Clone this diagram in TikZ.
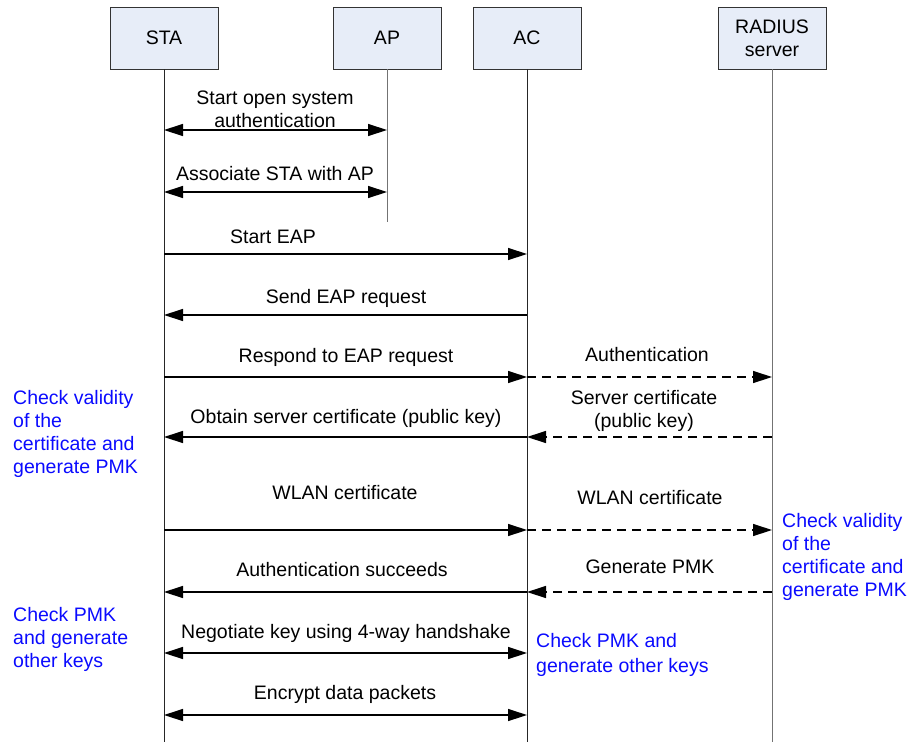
\documentclass[tikz,border=0pt]{standalone}
\usepackage{fontspec}
\setmainfont{Liberation Sans}
\usetikzlibrary{arrows.meta}
\definecolor{boxfill}{HTML}{E7EDF8}
\definecolor{notecol}{HTML}{0A0AFF}
\begin{document}
\begin{tikzpicture}[x=1pt,y=-1pt,
  font=\fontsize{19.5}{23}\selectfont,
  entity/.style={draw=black!80, fill=boxfill, minimum width=108pt, minimum height=62pt, inner sep=0pt, align=center, line width=0.8pt},
  lifeline/.style={line width=0.9pt, draw=black!85},
  lifelinegray/.style={line width=0.9pt, draw=black!55},
  tip/.tip={Triangle[length=19pt,width=12pt]},
  msg/.style={line width=1.3pt, -tip},
  dmsg/.style={msg, dash pattern=on 9pt off 6pt},
  both/.style={line width=1.3pt, tip-tip},
  lbl/.style={anchor=base, inner sep=0pt, align=center},
  note/.style={text=notecol, align=left, anchor=base west, inner sep=0pt}]
\useasboundingbox (0,0) rectangle (909,742);
% entities
\node[entity] (sta) at (164,38) {STA};
\node[entity] (ap) at (387,38) {AP};
\node[entity] (ac) at (527,38) {AC};
\node[entity] (rad) at (772,38) {RADIUS\\server};
% lifeline ends
\coordinate (staE) at (164,742);
\coordinate (apE) at (387,222);
\coordinate (acE) at (527,742);
\coordinate (radE) at (772,742);
\draw[lifeline] (sta.south) -- (staE);
\draw[lifelinegray] (ap.south) -- (apE);
\draw[lifeline] (ac.south) -- (acE);
\draw[lifelinegray] (rad.south) -- (radE);
% rows
\coordinate (r1) at (0,130);
\coordinate (r2) at (0,192);
\coordinate (r3) at (0,254);
\coordinate (r4) at (0,315);
\coordinate (r5) at (0,377);
\coordinate (r6) at (0,437);
\coordinate (r7) at (0,530);
\coordinate (r8) at (0,592);
\coordinate (r9) at (0,653);
\coordinate (r10) at (0,715);
% messages
\draw[both] (sta |- r1) -- (ap |- r1);
\draw[both] (sta |- r2) -- (ap |- r2);
\draw[msg] (sta |- r3) -- (ac |- r3);
\draw[msg] (ac |- r4) -- (sta |- r4);
\draw[msg] (sta |- r5) -- (ac |- r5);
\draw[dmsg] (ac |- r5) -- (rad |- r5);
\draw[msg] (ac |- r6) -- (sta |- r6);
\draw[dmsg] (rad |- r6) -- (ac |- r6);
\draw[msg] (sta |- r7) -- (ac |- r7);
\draw[dmsg] (ac |- r7) -- (rad |- r7);
\draw[msg] (ac |- r8) -- (sta |- r8);
\draw[dmsg] (rad |- r8) -- (ac |- r8);
\draw[both] (sta |- r9) -- (ac |- r9);
\draw[both] (sta |- r10) -- (ac |- r10);
% labels (base anchor = baseline of last line)
\node[lbl] (l1) at (275,127) {Start open system\\authentication};
\node[lbl] (l2) at (275,180) {Associate STA with AP};
\node[lbl] (l3) at (273,243) {Start EAP};
\node[lbl] (l4) at (346,303) {Send EAP request};
\node[lbl] (l5) at (346,362) {Respond to EAP request};
\node[lbl] (l5b) at (647,361) {Authentication};
\node[lbl] (l6) at (346,423) {Obtain server certificate (public key)};
\node[lbl] (l6b) at (644,427) {Server certificate\\(public key)};
\node[lbl] (l7) at (345,499) {WLAN certificate};
\node[lbl] (l7b) at (650,504) {WLAN certificate};
\node[lbl] (l8) at (342,576) {Authentication succeeds};
\node[lbl] (l8b) at (650,573) {Generate PMK};
\node[lbl] (l9) at (346,638) {Negotiate key using 4-way handshake};
\node[lbl] (l10) at (345,699) {Encrypt data packets};
% notes
\node[note] (n1) at (13,473) {Check validity\\of the\\certificate and\\generate PMK};
\node[note] (n2) at (782,596) {Check validity\\of the\\certificate and\\generate PMK};
\node[note] (n3) at (13,667) {Check PMK\\and generate\\other keys};
\node[note, font=\fontsize{19.5}{25}\selectfont] (n4) at (536,672) {Check PMK and\\generate other keys};
\end{tikzpicture}
\end{document}
